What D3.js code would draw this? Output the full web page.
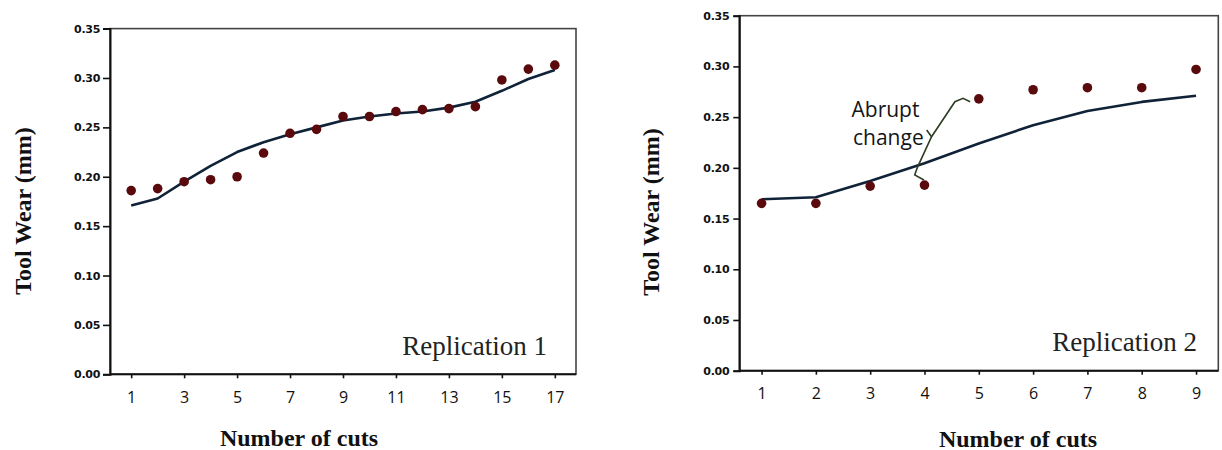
<!DOCTYPE html>
<html>
<head>
<meta charset="utf-8">
<script src="https://cdn.jsdelivr.net/npm/d3@7"></script>
<style>
  html, body { margin: 0; padding: 0; background: #ffffff; }
  svg { display: block; }
</style>
</head>
<body>
<svg id="chart" width="1222" height="450"></svg>
<script>
// ---------------- DATA ----------------
const cuts1 = [1,2,3,4,5,6,7,8,9,10,11,12,13,14,15,16,17];
const observed1 = [0.186,0.188,0.195,0.197,0.200,0.224,0.244,0.248,0.261,0.261,0.266,0.268,0.269,0.271,0.298,0.309,0.313];
const fitted1 = [0.171,0.178,0.195,0.211,0.225,0.235,0.243,0.250,0.257,0.261,0.264,0.266,0.270,0.276,0.287,0.299,0.308];
const xTicks1 = [1,3,5,7,9,11,13,15,17];

const cuts2 = [1,2,3,4,5,6,7,8,9];
const observed2 = [0.165,0.165,0.182,0.183,0.268,0.277,0.279,0.279,0.297];
const fitted2 = [0.169,0.171,0.187,0.2045,0.224,0.242,0.256,0.265,0.271];
const xTicks2 = [1,2,3,4,5,6,7,8,9];

const yTicks = [0,0.05,0.10,0.15,0.20,0.25,0.30,0.35];
const yDomain = [0, 0.35];
const xDomain1 = [0.2, 17.8];
const xDomain2 = [0.59, 9.41];

const yTitle = "Tool Wear (mm)";
const xTitle = "Number of cuts";
const panelLabels = ["Replication 1", "Replication 2"];
const annotationLines = ["Abrupt", "change"];
// brace drawn in data coordinates of panel 2 (x in cuts, y in mm)
const bracePoints = [[3.99,0.188],[3.82,0.193],[3.87,0.2005],[4.13,0.2307],[4.56,0.2652],[4.71,0.2686],[4.84,0.2652]];
const braceTip = [4.04,0.2373];

// ---------------- LAYOUT ----------------
const svg = d3.select("#chart");
const dotColor = "#5a0a0c";
const lineColor = "#0f2238";

const panels = [
  { cuts: cuts1, obs: observed1, fit: fitted1, xTicks: xTicks1, xDomain: xDomain1,
    left: 110, right: 576, top: 28.6, bottom: 374.3,
    yTitleX: 31, yTitleY: 211, xTitleX: 299, xTitleY: 446,
    label: panelLabels[0], labelX: 547, labelY: 355, tickGap: 3, tickLen: 7 },
  { cuts: cuts2, obs: observed2, fit: fitted2, xTicks: xTicks2, xDomain: xDomain2,
    left: 739.3, right: 1218.3, top: 15.7, bottom: 370.7,
    yTitleX: 659, yTitleY: 212, xTitleX: 1018, xTitleY: 446.5,
    label: panelLabels[1], labelX: 1197, labelY: 351, tickGap: 4, tickLen: 6 }
];

panels.forEach((p, i) => {
  const x = d3.scaleLinear().domain(p.xDomain).range([p.left, p.right]);
  const y = d3.scaleLinear().domain(yDomain).range([p.bottom, p.top]);
  const g = svg.append("g");

  // frame (top/right)
  g.append("rect")
    .attr("x", p.left).attr("y", p.top)
    .attr("width", p.right - p.left).attr("height", p.bottom - p.top)
    .attr("fill", "none").attr("stroke", "#444").attr("stroke-width", 1.6);

  // y axis
  const yAxis = d3.axisLeft(y).tickValues(yTicks).tickFormat(d3.format(".2f"))
    .tickSize(p.tickLen).tickPadding(p.tickGap);
  const ya = g.append("g").attr("transform", `translate(${p.left},0)`).call(yAxis);
  ya.attr("font-family", null).attr("font-size", null);
  ya.select(".domain").attr("stroke", "#111").attr("stroke-width", 2);
  ya.selectAll(".tick line").attr("stroke", "#111").attr("stroke-width", 1.6);
  ya.selectAll(".tick text")
    .style("font-family", "'DejaVu Sans', sans-serif").style("font-weight", "bold")
    .style("font-size", "11px").attr("fill", "#111").attr("letter-spacing", -0.3);

  // x axis
  const xAxis = d3.axisBottom(x).tickValues(p.xTicks).tickFormat(d3.format("d"))
    .tickSize(4).tickPadding(13).tickSizeOuter(0);
  const xa = g.append("g").attr("transform", `translate(0,${p.bottom})`).call(xAxis);
  xa.attr("font-family", null).attr("font-size", null);
  xa.select(".domain").attr("stroke", "#111").attr("stroke-width", 2)
    .attr("d", `M${p.left},0H${p.right}`);
  xa.selectAll(".tick line").attr("stroke", "#111").attr("stroke-width", 1.6);
  xa.selectAll(".tick text")
    .style("font-family", "'Open Sans', sans-serif")
    .style("font-size", "16px").attr("fill", "#111");

  // fitted line
  const line = d3.line().x((d, k) => x(p.cuts[k])).y(d => y(d)).curve(d3.curveLinear);
  g.append("path").datum(p.fit)
    .attr("d", line).attr("fill", "none")
    .attr("stroke", lineColor).attr("stroke-width", 2.6).attr("stroke-linejoin", "round");

  // observed dots
  g.selectAll("circle.obs").data(p.obs).enter().append("circle")
    .attr("class", "obs")
    .attr("cx", (d, k) => x(p.cuts[k])).attr("cy", d => y(d))
    .attr("r", 4.8).attr("fill", dotColor);

  // titles
  g.append("text")
    .attr("transform", `translate(${p.yTitleX},${p.yTitleY}) rotate(-90)`)
    .attr("text-anchor", "middle")
    .style("font-family", "'Liberation Serif', 'Times New Roman', serif")
    .style("font-weight", "bold").style("font-size", "24px").attr("fill", "#111")
    .text(yTitle);
  g.append("text")
    .attr("x", p.xTitleX).attr("y", p.xTitleY)
    .attr("text-anchor", "middle")
    .style("font-family", "'Liberation Serif', 'Times New Roman', serif")
    .style("font-weight", "bold").style("font-size", "24px").attr("fill", "#111")
    .text(xTitle);

  // panel label
  g.append("text")
    .attr("x", p.labelX).attr("y", p.labelY)
    .attr("text-anchor", "end")
    .style("font-family", "'Liberation Serif', 'Times New Roman', serif")
    .style("font-size", "27px").attr("fill", "#222")
    .text(p.label);

  if (i === 1) {
    const bl = d3.line().x(d => x(d[0])).y(d => y(d[1]));
    g.append("path").datum(bracePoints).attr("d", bl)
      .attr("fill", "none").attr("stroke", "#2f3d22").attr("stroke-width", 1.6)
      .attr("stroke-linejoin", "miter");
    g.append("path").datum([bracePoints[3], braceTip]).attr("d", bl)
      .attr("fill", "none").attr("stroke", "#2f3d22").attr("stroke-width", 1.6);
    const t = g.append("text")
      .style("font-family", "'Open Sans', sans-serif")
      .style("font-size", "21px").attr("fill", "#151515");
    t.append("tspan").attr("x", 851.5).attr("y", 116.5).text(annotationLines[0]);
    t.append("tspan").attr("x", 853).attr("y", 145).text(annotationLines[1]);
  }
});
</script>
</body>
</html>
